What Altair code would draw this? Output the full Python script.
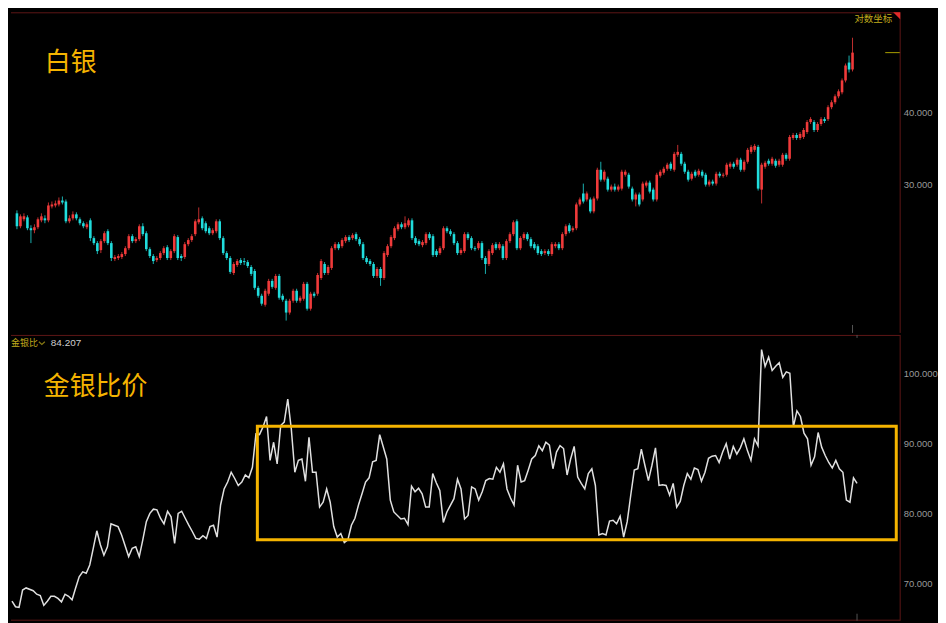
import altair as alt
import pandas as pd

# ---------------- data ----------------
silver_open = [
    26.73, 25.38, 26.10, 26.30, 25.18, 24.98, 25.28, 25.99, 26.20, 25.99,
    27.48, 27.59, 27.70, 28.14, 28.03, 25.89, 26.20, 26.62, 26.10, 25.69,
    25.28, 25.99, 24.20, 23.72, 23.06, 23.91, 24.88, 23.72, 22.25, 22.34,
    22.43, 22.70, 23.24, 24.39, 23.91, 24.10, 25.38, 24.68, 23.15, 22.52,
    22.16, 22.34, 22.79, 23.33, 22.34, 22.97, 24.30, 22.52, 22.43, 23.62,
    24.01, 24.59, 25.79, 26.20, 25.69, 25.18, 24.68, 24.88, 25.89, 24.20,
    22.79, 22.34, 21.04, 21.72, 22.16, 22.07, 21.98, 21.55, 21.21, 19.82,
    19.20, 18.52, 19.36, 20.38, 19.82, 20.79, 19.20, 18.82, 17.95, 18.82,
    19.59, 18.82, 18.97, 20.14, 18.23, 19.36, 19.36, 20.62, 21.81, 21.04,
    21.47, 23.24, 23.62, 23.43, 23.91, 24.30, 24.20, 24.59, 24.10, 23.62,
    22.34, 22.07, 21.81, 20.79, 21.38, 20.62, 22.61, 23.43, 24.20, 25.08,
    25.58, 25.28, 25.48, 25.99, 24.20, 23.91, 23.53, 23.72, 24.59, 24.39,
    22.97, 22.79, 23.24, 25.18, 24.88, 24.59, 23.72, 22.79, 22.97, 24.59,
    24.20, 23.24, 23.24, 23.72, 22.34, 21.81, 22.79, 23.62, 23.24, 23.43,
    22.34, 23.91, 24.59, 25.89, 23.24, 24.20, 24.59, 24.10, 23.62, 23.43,
    22.97, 22.79, 22.97, 22.70, 23.43, 23.62, 23.24, 24.59, 25.48, 24.98,
    25.18, 27.70, 28.95, 28.26, 28.26, 26.94, 28.37, 31.84, 30.60, 30.72,
    29.40, 29.76, 29.40, 29.52, 31.21, 31.21, 29.52, 28.26, 28.83, 28.26,
    29.88, 30.24, 29.40, 28.26, 31.09, 31.46, 31.97, 32.62, 31.84, 33.81,
    33.94, 32.62, 31.59, 30.72, 31.59, 31.21, 31.59, 31.21, 30.00, 30.36,
    30.12, 31.33, 31.09, 31.21, 32.23, 32.62, 32.49, 33.15, 31.84, 32.88,
    34.21, 34.49, 34.90, 29.40, 32.23, 33.01, 32.62, 33.01, 32.49, 32.49,
    33.81, 33.28, 36.17, 36.61, 36.17, 36.32, 37.05, 38.56, 38.56, 37.35,
    38.26, 39.02, 39.02, 40.93, 41.75, 42.76, 43.45, 45.57, 48.96, 47.62,
]
silver_close = [
    25.38, 26.41, 26.41, 25.18, 24.98, 25.28, 26.10, 26.41, 25.99, 27.59,
    27.70, 27.81, 28.14, 27.92, 25.89, 26.20, 26.62, 26.20, 25.69, 25.38,
    25.58, 24.20, 23.72, 22.97, 23.91, 24.68, 23.72, 22.34, 22.43, 22.52,
    22.70, 23.24, 24.39, 23.91, 24.10, 25.38, 24.59, 23.15, 22.52, 22.07,
    22.34, 22.79, 23.24, 22.34, 22.97, 24.39, 22.34, 22.34, 23.62, 24.01,
    24.39, 25.89, 26.10, 25.18, 24.88, 24.68, 24.98, 25.89, 24.20, 22.79,
    22.34, 21.13, 21.81, 22.07, 21.90, 21.98, 21.64, 20.96, 19.82, 19.20,
    18.60, 19.59, 20.38, 19.90, 20.79, 19.05, 18.90, 17.95, 18.82, 19.59,
    18.82, 19.05, 20.14, 18.23, 19.36, 19.20, 20.87, 22.07, 21.04, 21.55,
    23.24, 23.62, 23.24, 24.01, 24.30, 24.01, 24.49, 24.10, 23.62, 22.34,
    21.98, 21.81, 20.79, 21.38, 20.62, 22.79, 23.43, 24.30, 25.18, 25.58,
    25.28, 25.69, 25.99, 24.20, 23.72, 23.62, 23.82, 24.59, 24.20, 22.61,
    22.61, 23.24, 25.18, 24.88, 24.59, 23.72, 22.79, 23.06, 24.59, 24.20,
    23.24, 23.15, 23.72, 22.34, 21.81, 22.97, 23.53, 23.24, 23.62, 22.34,
    23.91, 24.59, 25.79, 23.24, 24.20, 24.59, 24.10, 23.43, 23.24, 22.79,
    22.70, 22.97, 22.70, 23.62, 23.62, 23.24, 24.59, 25.38, 24.88, 25.18,
    27.70, 28.26, 28.03, 28.95, 26.94, 28.37, 31.84, 30.60, 31.59, 29.40,
    29.76, 29.40, 29.76, 31.59, 31.59, 29.76, 28.26, 28.83, 27.70, 30.12,
    30.24, 29.17, 28.26, 31.21, 31.59, 31.97, 32.49, 31.97, 33.94, 34.21,
    32.62, 31.59, 30.60, 31.33, 31.09, 31.71, 31.09, 30.00, 30.36, 30.12,
    31.33, 31.09, 31.21, 32.49, 32.62, 32.23, 33.15, 31.84, 32.88, 34.49,
    34.90, 35.04, 29.52, 32.49, 32.75, 32.62, 33.28, 32.36, 33.01, 33.81,
    33.28, 36.32, 36.61, 36.17, 36.76, 37.35, 38.56, 39.02, 37.35, 38.26,
    39.02, 38.72, 40.93, 41.75, 42.76, 43.62, 45.57, 48.38, 47.62, 50.95,
]
silver_high = [
    27.05, 26.62, 26.73, 26.52, 25.48, 25.58, 26.30, 26.73, 26.52, 27.92,
    28.03, 28.14, 28.49, 28.60, 28.26, 26.52, 26.94, 26.84, 26.30, 25.89,
    25.79, 26.20, 24.39, 23.91, 24.10, 24.88, 25.08, 23.91, 22.61, 22.70,
    22.88, 23.43, 24.59, 24.59, 24.30, 25.58, 25.69, 24.88, 23.33, 22.70,
    22.52, 22.97, 23.43, 23.53, 23.15, 24.59, 24.49, 22.70, 23.82, 24.20,
    24.59, 26.10, 27.37, 26.41, 25.89, 25.38, 25.18, 26.10, 26.10, 24.39,
    22.97, 22.52, 21.98, 22.25, 22.34, 22.34, 22.16, 21.72, 21.38, 19.98,
    19.36, 19.75, 20.55, 20.55, 20.96, 20.96, 19.36, 18.97, 18.97, 19.75,
    19.75, 19.20, 20.30, 20.30, 19.51, 19.51, 21.04, 22.25, 21.98, 21.72,
    23.43, 23.82, 23.82, 24.20, 24.49, 24.49, 24.68, 24.78, 24.30, 23.82,
    22.52, 22.25, 21.98, 21.55, 21.55, 22.97, 23.62, 24.49, 25.38, 25.79,
    25.79, 26.41, 26.20, 26.20, 24.39, 24.10, 24.01, 24.78, 24.78, 24.59,
    23.15, 23.43, 25.38, 25.38, 25.08, 24.78, 23.91, 23.24, 24.78, 24.78,
    24.39, 23.43, 23.91, 23.91, 22.52, 23.15, 23.72, 23.82, 23.82, 23.62,
    24.10, 24.78, 25.99, 26.10, 24.39, 24.78, 24.78, 24.30, 23.82, 23.62,
    23.15, 23.15, 23.15, 23.82, 23.82, 23.82, 24.78, 25.58, 25.69, 25.38,
    27.92, 28.49, 30.12, 29.18, 28.49, 28.60, 32.10, 32.88, 31.84, 30.97,
    30.00, 30.12, 30.00, 31.84, 31.84, 31.46, 29.76, 29.06, 29.06, 30.36,
    30.48, 30.48, 29.64, 31.46, 31.84, 32.23, 32.75, 32.88, 34.21, 35.18,
    34.21, 32.88, 31.84, 31.59, 31.84, 31.97, 31.84, 31.46, 30.60, 30.60,
    31.59, 31.59, 31.46, 32.75, 32.88, 32.88, 33.41, 33.41, 33.15, 34.76,
    35.18, 35.32, 35.18, 32.75, 33.01, 33.28, 33.54, 33.28, 33.28, 34.07,
    34.07, 36.61, 36.91, 36.91, 37.05, 37.65, 38.87, 39.33, 38.87, 38.56,
    39.33, 39.33, 41.26, 42.09, 43.10, 43.97, 45.94, 48.77, 50.35, 54.09,
]
silver_low = [
    25.08, 25.18, 25.89, 24.98, 23.72, 24.68, 25.08, 25.79, 25.69, 25.79,
    27.26, 27.37, 27.48, 27.70, 25.69, 25.69, 25.99, 25.99, 25.48, 25.18,
    25.08, 23.91, 23.53, 22.70, 22.79, 23.72, 23.53, 22.07, 22.07, 22.16,
    22.25, 22.52, 23.06, 23.72, 23.72, 23.91, 24.39, 22.97, 22.34, 21.81,
    21.98, 22.16, 22.61, 22.16, 22.16, 22.79, 22.16, 22.07, 22.25, 23.43,
    23.82, 24.39, 25.58, 24.98, 24.68, 24.49, 24.49, 24.68, 24.01, 22.61,
    22.16, 20.96, 20.87, 21.55, 21.72, 21.72, 21.47, 20.79, 19.67, 19.05,
    18.45, 18.38, 19.20, 19.75, 19.67, 18.90, 18.75, 17.38, 17.80, 18.67,
    18.67, 18.67, 18.82, 18.09, 18.09, 19.05, 19.20, 20.46, 20.87, 20.87,
    21.30, 23.06, 23.06, 23.24, 23.72, 23.82, 24.01, 23.91, 23.43, 22.16,
    21.81, 21.64, 20.62, 20.62, 19.98, 20.46, 22.43, 23.24, 24.01, 24.88,
    25.08, 25.08, 25.28, 24.01, 23.53, 23.43, 23.33, 23.53, 24.01, 22.43,
    22.43, 22.61, 23.06, 24.68, 24.39, 23.53, 22.61, 22.61, 22.79, 24.01,
    23.06, 22.97, 23.06, 22.16, 20.96, 21.64, 22.61, 23.06, 23.06, 22.16,
    22.16, 23.72, 24.39, 23.06, 23.06, 24.01, 23.91, 23.24, 23.06, 22.61,
    22.52, 22.61, 22.52, 22.52, 23.24, 23.06, 23.06, 24.39, 24.68, 24.78,
    24.98, 27.48, 27.81, 28.03, 26.73, 26.73, 28.14, 30.36, 30.36, 29.17,
    29.17, 29.17, 29.17, 29.29, 30.97, 29.52, 28.03, 27.48, 27.48, 28.03,
    29.64, 28.95, 28.03, 28.03, 30.85, 31.21, 31.71, 31.71, 31.59, 33.54,
    32.36, 31.33, 30.36, 30.48, 30.85, 30.97, 30.85, 29.76, 29.76, 29.88,
    29.88, 30.85, 30.85, 30.97, 31.97, 31.97, 32.23, 31.59, 31.59, 32.62,
    33.94, 34.21, 29.29, 27.81, 31.97, 32.36, 32.36, 32.10, 32.23, 32.23,
    33.01, 33.01, 35.89, 35.89, 35.89, 36.03, 36.76, 38.26, 37.05, 37.05,
    37.95, 38.41, 38.72, 40.60, 41.42, 42.42, 43.10, 45.21, 47.05, 47.24,
]

ratio_week = [
    0, 1, 2, 3, 4, 6, 7, 8, 9, 10,
    11, 12, 13, 14, 15, 16, 17, 18, 19, 20,
    21, 22, 23, 24, 25, 26, 27, 28, 29, 30,
    31, 33, 34, 35, 36, 37, 38, 39, 40, 41,
    42, 43, 44, 45, 46, 47, 48, 49, 50, 51,
    52, 53, 54, 55, 56, 57, 58, 59, 60, 61,
    62, 63, 64, 65, 66, 67, 68, 69, 70, 71,
    72, 73, 74, 75, 76, 77, 78, 79, 80, 81,
    82, 83, 84, 85, 86, 87, 88, 89, 90, 91,
    92, 93, 94, 95, 96, 97, 98, 99, 100, 101,
    102, 103, 104, 106, 107, 108, 110, 111, 112, 113,
    114, 115, 116, 117, 118, 119, 120, 121, 122, 123,
    125, 126, 127, 128, 129, 130, 131, 132, 133, 134,
    135, 136, 137, 138, 139, 140, 141, 142, 143, 144,
    145, 146, 147, 148, 149, 150, 151, 152, 153, 154,
    155, 156, 157, 158, 159, 160, 161, 162, 163, 164,
    165, 166, 167, 168, 169, 170, 171, 172, 173, 174,
    175, 176, 177, 178, 179, 180, 181, 182, 183, 184,
    185, 186, 187, 188, 189, 190, 191, 192, 193, 194,
    195, 196, 197, 198, 199, 200, 201, 202, 203, 204,
    205, 206, 207, 208, 209, 210, 211, 212, 213, 214,
    215, 216, 217, 218, 219, 220, 221, 222, 223, 224,
    225, 226, 227, 228, 229, 230, 231, 232, 233, 234,
    235, 236, 237, 238, 239,
]
ratio_value = [
    67.4, 66.6, 66.5, 69.0, 69.3, 68.9, 68.4, 68.2, 66.8, 67.4,
    68.1, 68.1, 67.8, 67.3, 68.4, 68.1, 67.6, 69.3, 70.9, 71.6,
    71.4, 72.6, 75.0, 77.5, 75.5, 74.0, 75.2, 78.5, 78.3, 78.1,
    76.9, 73.8, 75.0, 75.2, 73.8, 76.2, 78.8, 80.0, 80.6, 80.5,
    79.3, 78.5, 80.3, 79.5, 75.7, 80.0, 80.3, 79.3, 78.3, 77.4,
    76.4, 76.3, 76.8, 76.4, 78.1, 78.3, 76.6, 81.2, 83.5, 84.5,
    85.9, 85.0, 84.0, 84.5, 85.5, 85.1, 86.6, 91.4, 91.3, 92.4,
    93.9, 87.6, 90.2, 87.1, 92.6, 93.1, 96.4, 92.1, 85.9, 87.6,
    87.8, 84.6, 90.9, 85.9, 85.9, 80.9, 81.6, 83.5, 81.6, 78.1,
    76.6, 77.1, 75.8, 76.2, 78.3, 79.3, 81.2, 82.8, 84.5, 85.1,
    87.4, 87.6, 91.3, 87.8, 81.9, 80.2, 79.2, 79.3, 78.4, 83.9,
    83.1, 83.6, 82.8, 80.9, 80.9, 85.7, 84.4, 83.3, 78.7, 80.2,
    82.1, 84.9, 83.5, 79.2, 79.7, 83.8, 83.5, 81.9, 83.1, 84.7,
    85.0, 84.9, 86.6, 85.9, 87.1, 83.5, 82.2, 81.2, 86.9, 84.5,
    84.7, 86.2, 87.8, 88.3, 89.7, 89.0, 90.2, 89.8, 86.4, 88.8,
    89.7, 89.3, 85.5, 87.8, 89.6, 85.2, 84.3, 83.5, 85.7, 86.4,
    84.0, 76.9, 77.1, 76.9, 78.9, 79.0, 78.5, 79.6, 76.6, 78.8,
    82.6, 86.2, 86.4, 89.2, 86.9, 84.7, 86.9, 89.4, 84.0, 84.1,
    84.0, 82.6, 84.3, 80.9, 81.7, 84.0, 85.7, 84.9, 86.5, 86.3,
    84.6, 85.9, 87.9, 88.2, 88.3, 87.3, 88.8, 90.0, 87.8, 89.6,
    88.5, 89.4, 90.7, 89.0, 87.6, 90.7, 89.7, 103.5, 101.1, 102.4,
    100.5, 101.1, 101.6, 99.5, 100.3, 100.1, 92.4, 94.7, 93.9, 91.5,
    90.7, 86.9, 88.1, 91.6, 89.5, 88.3, 87.3, 86.5, 87.6, 86.4,
    85.9, 81.9, 81.6, 85.1, 84.3,
]

silver_ticks = [30, 40]
ratio_ticks = [70, 80, 90, 100]
box_week = [69.4, 250.1]
box_ratio = [76.2, 92.5]
ratio_latest_text = "84.207"

# ---------------- styling ----------------
W = 893
H_TOP = 322
H_BOT = 287
RED = "#f03a3a"
CYAN = "#20dcdc"
GOLD = "#f5b400"
BORDER = "#5e1616"
LABEL = "#9a9a9a"
OLIVE = "#c0ac1c"
CJK = "Noto Sans CJK SC"

weeks = list(range(len(silver_close)))
candles = pd.DataFrame({
    "week": weeks,
    "open": silver_open,
    "close": silver_close,
    "high": silver_high,
    "low": silver_low,
})
candles["dir"] = ["up" if c >= o else "down" for o, c in zip(silver_open, silver_close)]
ratio_df = pd.DataFrame({"week": ratio_week, "ratio": ratio_value})
box_df = pd.DataFrame({"w0": [box_week[0]], "w1": [box_week[1]],
                       "r0": [box_ratio[0]], "r1": [box_ratio[1]]})
last_df = pd.DataFrame({"week": [weeks[-1]], "close": [silver_close[-1]]})
one = pd.DataFrame({"k": [0]})

x_scale = alt.Scale(domain=[-0.28, 251.2], nice=False, zero=False)
top_scale = alt.Scale(type="log", domain=[16.54, 59.9], nice=False, zero=False)
bot_scale = alt.Scale(domain=[64.6, 105.6], nice=False, zero=False)


def right_axis(values):
    return alt.Axis(orient="right", values=values, format=".3f", labelColor=LABEL,
                    labelFont="Liberation Sans", labelFontSize=9.5, labelPadding=3,
                    ticks=False, domain=False, grid=False, title=None)


top_axis = right_axis(silver_ticks)
bot_axis = right_axis(ratio_ticks)
X = alt.X("week:Q", scale=x_scale, axis=None)
dir_color = alt.Color("dir:N", scale=alt.Scale(domain=["up", "down"], range=[RED, CYAN]),
                      legend=None)

# ---------------- top panel: silver weekly candles ----------------
wicks = alt.Chart(candles).mark_rule(strokeWidth=1, opacity=0.8).encode(
    x=X, y=alt.Y("low:Q", scale=top_scale, axis=top_axis), y2="high:Q", color=dir_color)
bodies = alt.Chart(candles).mark_bar(size=2.6).encode(
    x=X, y=alt.Y("open:Q", scale=top_scale, axis=top_axis), y2="close:Q", color=dir_color)
last_line = alt.Chart(last_df).mark_rule(color="#a89e00", strokeWidth=1).encode(
    x=alt.value(W - 15), x2=alt.value(W),
    y=alt.Y("close:Q", scale=top_scale, axis=top_axis))
now_tick_top = alt.Chart(last_df).mark_rule(color="#555555", strokeWidth=1).encode(
    x=X, y=alt.value(H_TOP - 8), y2=alt.value(H_TOP))
top_border = alt.Chart(one).mark_rule(color=BORDER, strokeWidth=1).encode(
    x=alt.value(0), x2=alt.value(W), y=alt.value(0.5))
right_border_top = alt.Chart(one).mark_rule(color=BORDER, strokeWidth=1).encode(
    x=alt.value(W), y=alt.value(0), y2=alt.value(H_TOP))
silver_title = alt.Chart(one).mark_text(
    text="白银", font=CJK, fontSize=26, color=GOLD, align="left", baseline="middle"
).encode(x=alt.value(34), y=alt.value(51))
log_label = alt.Chart(one).mark_text(
    text="对数坐标", font=CJK, fontSize=9.5, color=OLIVE, align="right", baseline="middle"
).encode(x=alt.value(W - 8), y=alt.value(7))
corner = alt.Chart(one).mark_point(
    shape="M-1,-1L1,-1L1,1Z", size=49, filled=True, color="#e02a2a", opacity=1, strokeWidth=0
).encode(x=alt.value(W - 3.5), y=alt.value(3.5))

top = alt.layer(wicks, bodies, last_line, now_tick_top, top_border, right_border_top,
                silver_title, log_label, corner).properties(width=W, height=H_TOP)

# ---------------- bottom panel: gold/silver ratio ----------------
ratio_line = alt.Chart(ratio_df).mark_line(color="#e0e0e0", strokeWidth=1.5).encode(
    x=X, y=alt.Y("ratio:Q", scale=bot_scale, axis=bot_axis))
box = alt.Chart(box_df).mark_rect(fillOpacity=0, stroke=GOLD, strokeWidth=3).encode(
    x=alt.X("w0:Q", scale=x_scale, axis=None), x2="w1:Q",
    y=alt.Y("r0:Q", scale=bot_scale, axis=bot_axis), y2="r1:Q")
sep_border = alt.Chart(one).mark_rule(color=BORDER, strokeWidth=1).encode(
    x=alt.value(0), x2=alt.value(W), y=alt.value(0.5))
bottom_border = alt.Chart(one).mark_rule(color=BORDER, strokeWidth=1).encode(
    x=alt.value(0), x2=alt.value(W), y=alt.value(H_BOT - 0.5))
right_border_bot = alt.Chart(one).mark_rule(color=BORDER, strokeWidth=1).encode(
    x=alt.value(W), y=alt.value(0), y2=alt.value(H_BOT))
now_tick_b1 = alt.Chart(last_df).mark_rule(color="#555555", strokeWidth=1).encode(
    x=X, y=alt.value(0), y2=alt.value(3))
now_tick_b2 = alt.Chart(last_df).mark_rule(color="#555555", strokeWidth=1).encode(
    x=X, y=alt.value(H_BOT - 7), y2=alt.value(H_BOT))
ratio_name = alt.Chart(one).mark_text(
    text="金银比", font=CJK, fontSize=9, color=OLIVE, align="left", baseline="middle"
).encode(x=alt.value(0), y=alt.value(8))
chevron = alt.Chart(one).mark_point(
    shape="M-1,-0.4L0,0.5L1,-0.4", size=36, filled=False, color=OLIVE, strokeWidth=1.2
).encode(x=alt.value(31), y=alt.value(8))
ratio_now = alt.Chart(one).mark_text(
    text=ratio_latest_text, font="Liberation Sans", fontSize=10, color="#cfcfcf",
    align="left", baseline="middle"
).encode(x=alt.value(40), y=alt.value(8))
ratio_title = alt.Chart(one).mark_text(
    text="金银比价", font=CJK, fontSize=26, color=GOLD, align="left", baseline="middle"
).encode(x=alt.value(33), y=alt.value(52))

bottom = alt.layer(ratio_line, box, sep_border, bottom_border, right_border_bot,
                   now_tick_b1, now_tick_b2, ratio_name, chevron, ratio_now,
                   ratio_title).properties(width=W, height=H_BOT)

chart = alt.vconcat(top, bottom, spacing=0).resolve_scale(
    x="independent", y="independent"
).properties(
    padding={"left": 0, "right": 0, "top": 2, "bottom": 4},
    background="#000000",
).configure_view(stroke="transparent")

chart.save("out.html", embed_options={"renderer": "svg", "actions": False})
